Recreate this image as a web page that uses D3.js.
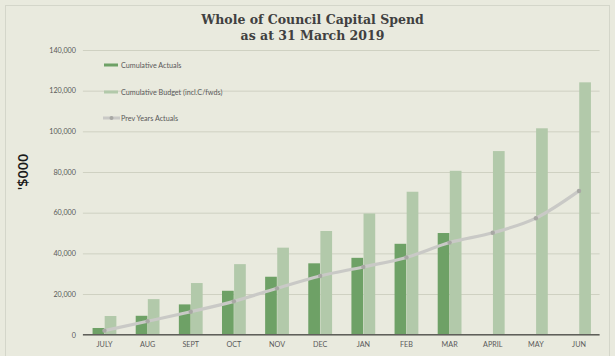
<!DOCTYPE html>
<html>
<head>
<meta charset="utf-8">
<script src="https://cdn.jsdelivr.net/npm/d3@7"></script>
<style>
  html, body { margin: 0; padding: 0; background: #e9eade; }
  svg { display: block; }
</style>
</head>
<body>
<svg id="chart" width="615" height="356"></svg>
<script>
const months = ["JULY","AUG","SEPT","OCT","NOV","DEC","JAN","FEB","MAR","APRIL","MAY","JUN"];
const cumulativeActuals = [3300, 9300, 14900, 21600, 28500, 35100, 37800, 44700, 50000, null, null, null];
const cumulativeBudget = [9200, 17500, 25400, 34700, 42800, 51000, 59600, 70300, 80600, 90300, 101500, 124100];
const prevYearsActuals = [2000, 6600, 11300, 16400, 22800, 28900, 33300, 38000, 45300, 50100, 57300, 70700];
const yTicks = [0, 20000, 40000, 60000, 80000, 100000, 120000, 140000];
const titleLines = ["Whole of Council Capital Spend", "as at 31 March 2019"];
const yAxisTitle = "'$000";
const legendItems = ["Cumulative Actuals", "Cumulative Budget (incl.C/fwds)", "Prev Years Actuals"];

const svg = d3.select("#chart");
const W = 615, H = 356;
const colors = { actual: "#6ea166", budget: "#b2c9aa", prev: "#c9c9c6", prevDot: "#a8a8a4", grid: "#cfd1c2", axis: "#5f5f5a", text: "#595959" };

svg.append("rect").attr("x", 0).attr("y", 0).attr("width", W).attr("height", H).attr("fill", "#e9eade");
svg.append("rect").attr("x", 5.5).attr("y", 5.5).attr("width", 604).attr("height", 360)
  .attr("fill", "none").attr("stroke", "#d4d6ca").attr("stroke-width", 1);

const plot = { left: 82.9, right: 600.6, top: 50, bottom: 334.7 };

const x = d3.scaleBand().domain(months).range([plot.left, plot.right]).paddingInner(0).paddingOuter(0);
const y = d3.scaleLinear().domain([0, 140000]).range([plot.bottom, plot.top]);

// gridlines
const yAxis = d3.axisLeft(y).tickValues(yTicks).tickSize(0).tickPadding(7)
  .tickFormat(d3.format(","));
const gy = svg.append("g").attr("transform", `translate(${plot.left},0)`).call(yAxis);
gy.select(".domain").remove();
gy.selectAll("text").attr("font-family", "Lato, 'Open Sans', sans-serif").attr("font-size", 7.2).attr("fill", colors.text);
gy.selectAll(".tick").append("line")
  .attr("x1", 0).attr("x2", plot.right - plot.left - 1)
  .attr("stroke", colors.grid).attr("stroke-width", 1);

const barW = 11.7;
const c = m => x(m) + x.bandwidth() / 2;

// actual bars
svg.append("g").selectAll("rect")
  .data(months.map((m, i) => ({ m, v: cumulativeActuals[i] })).filter(d => d.v != null))
  .join("rect")
  .attr("x", d => c(d.m) - barW - 0.2)
  .attr("y", d => y(d.v))
  .attr("width", barW)
  .attr("height", d => y(0) - y(d.v))
  .attr("fill", colors.actual);

// budget bars
svg.append("g").selectAll("rect")
  .data(months.map((m, i) => ({ m, v: cumulativeBudget[i] })))
  .join("rect")
  .attr("x", d => c(d.m) + 0.2)
  .attr("y", d => y(d.v))
  .attr("width", barW)
  .attr("height", d => y(0) - y(d.v))
  .attr("fill", colors.budget);

// x axis
const xAxis = d3.axisBottom(x).tickSize(0).tickPadding(7);
const gx = svg.append("g").attr("transform", `translate(0,${plot.bottom})`).call(xAxis);
gx.select(".domain").attr("stroke", colors.axis).attr("stroke-width", 1.5)
  .attr("d", `M${plot.left},0H${plot.right - 1}`);
gx.selectAll("text").attr("font-family", "Lato, 'Open Sans', sans-serif").attr("font-size", 7.2).attr("fill", colors.text);

// prev years line
const line = d3.line().x((d, i) => c(months[i])).y(d => y(d)).curve(d3.curveMonotoneX);
svg.append("path").datum(prevYearsActuals).attr("d", line)
  .attr("fill", "none").attr("stroke", colors.prev).attr("stroke-width", 3.2)
  .attr("stroke-linecap", "round").attr("stroke-linejoin", "round");
svg.append("g").selectAll("circle").data(prevYearsActuals).join("circle")
  .attr("cx", (d, i) => c(months[i])).attr("cy", d => y(d)).attr("r", 2.2)
  .attr("fill", colors.prevDot);

// legend
const legendY = [65, 92, 118];
const lg = svg.append("g");
legendItems.forEach((t, i) => {
  const yy = legendY[i];
  if (i < 2) {
    lg.append("rect").attr("x", 104).attr("y", yy - 1.5).attr("width", 14).attr("height", 3)
      .attr("fill", i === 0 ? colors.actual : colors.budget);
  } else {
    lg.append("line").attr("x1", 103).attr("x2", 120).attr("y1", yy).attr("y2", yy)
      .attr("stroke", colors.prev).attr("stroke-width", 3);
    lg.append("circle").attr("cx", 111.5).attr("cy", yy).attr("r", 2).attr("fill", colors.prevDot);
  }
  lg.append("text").attr("x", 121).attr("y", yy).attr("dy", "0.35em")
    .attr("font-family", "Lato, 'Open Sans', sans-serif").attr("font-size", 7.2).attr("fill", colors.text)
    .text(t);
});

// title
const tt = svg.append("text").attr("text-anchor", "middle")
  .attr("font-family", "'DejaVu Serif', serif").attr("font-weight", "bold")
  .attr("font-size", 12.5).attr("fill", "#404040");
titleLines.forEach((t, i) => {
  tt.append("tspan").attr("x", 312.5).attr("y", i === 0 ? 24 : 39.5).text(t);
});

// y axis title
svg.append("text")
  .attr("transform", "translate(28,172) rotate(-90)")
  .attr("text-anchor", "middle")
  .attr("font-family", "'Open Sans', 'Noto Sans', sans-serif").attr("font-size", 14.5).attr("font-weight", 600)
  .attr("fill", "#1a1a1a")
  .text(yAxisTitle);
</script>
</body>
</html>
